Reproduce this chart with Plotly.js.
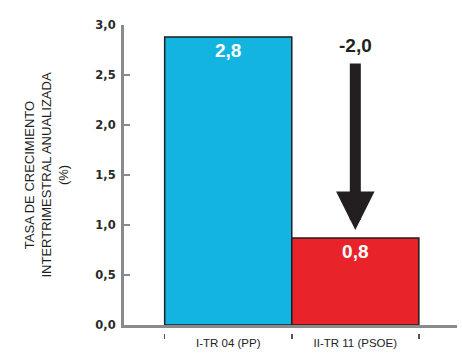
<!DOCTYPE html>
<html>
<head>
<meta charset="utf-8">
<script src="https://cdn.plot.ly/plotly-3.0.1.min.js"></script>
<style>html,body{margin:0;padding:0;background:#fff;}#chart{width:462px;height:357px;}</style>
</head>
<body>
<div id="chart"></div>
<script>
// Data
const categories = ['I-TR 04 (PP)', 'II-TR 11 (PSOE)'];
const values = [2.88, 0.87];
const valueLabels = ['2,8', '0,8'];
const barColors = ['#13B5E0', '#E8232A'];
const changeLabel = '-2,0';
const arrowFrom = 2.63;
const arrowTo = 0.95;
const changeLabelY = 2.80;
const yTicks = [0, 0.5, 1, 1.5, 2, 2.5, 3];

const axisGray = '#8a8a8c';

const traces = [
  {
    type: 'bar',
    x: categories,
    y: values,
    text: valueLabels,
    textposition: 'inside',
    insidetextanchor: 'end',
    textangle: 0,
    constraintext: 'none',
    insidetextfont: {family: 'Arial, Liberation Sans, sans-serif', size: 19, color: '#ffffff', weight: 'bold'},
    marker: {color: barColors, line: {color: '#1e1e1e', width: 1.5}},
    width: 1,
    hoverinfo: 'skip',
    showlegend: false
  },
  {
    type: 'scatter',
    x: categories,
    y: values,
    xaxis: 'x2',
    yaxis: 'y',
    mode: 'markers',
    marker: {opacity: 0},
    hoverinfo: 'skip',
    showlegend: false
  }
];

const layout = {
  width: 462,
  height: 357,
  margin: {l: 124, r: 5, t: 25, b: 24},
  paper_bgcolor: '#ffffff',
  plot_bgcolor: '#ffffff',
  separators: ',.',
  showlegend: false,
  bargap: 0,
  xaxis: {
    type: 'category',
    range: [-0.82, 1.8],
    anchor: 'y',
    showline: true,
    linecolor: axisGray,
    linewidth: 3,
    ticks: '',
    showgrid: false,
    zeroline: false,
    ticklabelstandoff: 5,
    tickfont: {family: 'Arial, Liberation Sans, sans-serif', size: 11.5, color: '#222222'}
  },
  xaxis2: {
    type: 'category',
    overlaying: 'x',
    anchor: 'free',
    position: 0,
    range: [-0.82, 1.8],
    showline: false,
    ticks: 'outside',
    tickson: 'boundaries',
    ticklen: 5,
    tickwidth: 1.5,
    tickcolor: '#555555',
    showticklabels: false,
    showgrid: false,
    zeroline: false
  },
  yaxis: {
    range: [0, 3],
    domain: [0.026, 1],
    tickvals: yTicks,
    tickformat: '.1f',
    ticks: 'inside',
    ticklen: 6,
    tickwidth: 1.5,
    tickcolor: axisGray,
    showline: true,
    linecolor: axisGray,
    linewidth: 3,
    showgrid: false,
    zeroline: false,
    ticklabelstandoff: 3,
    tickfont: {family: 'DejaVu Sans, sans-serif', size: 11.5, color: '#2a2a2a', weight: 'bold'},
    title: {
      text: 'TASA DE CRECIMIENTO<br>INTERTRIMESTRAL ANUALIZADA<br>(%)',
      standoff: 24,
      font: {family: 'Arial, Liberation Sans, sans-serif', size: 13, color: '#1e1e1e'}
    }
  },
  annotations: [
    {
      x: categories[1], y: arrowTo,
      ax: categories[1], ay: arrowFrom,
      xref: 'x', yref: 'y', axref: 'x', ayref: 'y',
      text: '',
      showarrow: true,
      arrowhead: 2,
      arrowwidth: 11,
      arrowsize: 0.7,
      arrowcolor: '#231f20'
    },
    {
      x: categories[1], y: changeLabelY,
      xref: 'x', yref: 'y',
      text: changeLabel,
      showarrow: false,
      font: {family: 'Arial, Liberation Sans, sans-serif', size: 19, color: '#231f20', weight: 'bold'}
    }
  ]
};

Plotly.newPlot('chart', traces, layout, {displayModeBar: false, staticPlot: true});
</script>
</body>
</html>
